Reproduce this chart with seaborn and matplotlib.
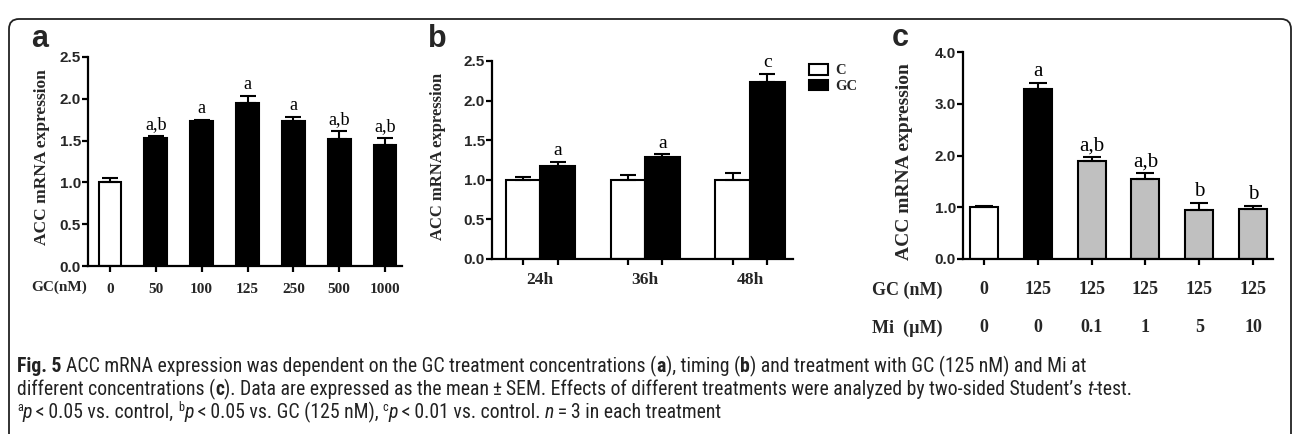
import numpy as np
import pandas as pd
import matplotlib
matplotlib.use("Agg")
import matplotlib.pyplot as plt
import seaborn as sns
from matplotlib.patches import Patch, FancyBboxPatch
from matplotlib.transforms import IdentityTransform, blended_transform_factory
from matplotlib import font_manager

# ---------------- data ----------------
a_labels = ["0", "50", "100", "125", "250", "500", "1000"]
a_values = [1.00, 1.53, 1.73, 1.95, 1.73, 1.52, 1.45]
a_errors = [0.05, 0.03, 0.02, 0.08, 0.05, 0.09, 0.08]
a_marks = ["", "a,b", "a", "a", "a", "a,b", "a,b"]

b_times = ["24h", "36h", "48h"]
b_control = [1.00, 1.00, 1.00]
b_control_err = [0.03, 0.06, 0.08]
b_gc = [1.18, 1.29, 2.24]
b_gc_err = [0.04, 0.03, 0.10]
b_marks = ["a", "a", "c"]

c_gc = ["0", "125", "125", "125", "125", "125"]
c_mi = ["0", "0", "0.1", "1", "5", "10"]
c_values = [1.00, 3.29, 1.90, 1.55, 0.95, 0.97]
c_errors = [0.03, 0.12, 0.07, 0.11, 0.13, 0.05]
c_marks = ["", "a", "a,b", "a,b", "b", "b"]
c_colors = ["white", "black", "#c0c0c0", "#c0c0c0", "#c0c0c0", "#c0c0c0"]

# ---------------- style ----------------
sns.set_style("ticks")
plt.rcParams["font.family"] = ["Liberation Sans", "DejaVu Sans"]
SERIF = ["Liberation Serif", "DejaVu Serif"]
SANS = ["Liberation Sans", "DejaVu Sans"]

W, H = 1292, 434
fig = plt.figure(figsize=(W / 100, H / 100), dpi=100)


def axes_px(x0, y0, x1, y1):
    return fig.add_axes([x0 / W, 1 - y1 / H, (x1 - x0) / W, (y1 - y0) / H])


def fx(x):
    return x / W


def fy(y):
    return 1 - y / H


def style_axes(ax, yticks, fmt, ysize=11):
    sns.despine(ax=ax)
    for s in ("left", "bottom"):
        ax.spines[s].set_linewidth(1.6)
        ax.spines[s].set_color("black")
    ax.set_yticks(yticks)
    ax.set_yticklabels([fmt.format(t) for t in yticks], family=SANS,
                       weight="bold", fontsize=ysize)
    ax.tick_params(axis="y", length=4, width=1.6, pad=1, color="black")
    ax.tick_params(axis="x", which="major", length=4, width=1.6, color="black")
    ax.set_xlabel("")
    ax.patch.set_alpha(0)


def add_marks(ax, xs, tops, marks, size):
    for x, t, m in zip(xs, tops, marks):
        if m:
            ax.annotate(m, (x, t), xytext=(0, 5), textcoords="offset points",
                        ha="center", va="baseline", family=SERIF,
                        fontsize=size, color="black")


# ---------------- panel a ----------------
ax = axes_px(88, 57, 402, 266)
df_a = pd.DataFrame({"GC": a_labels, "val": a_values})
sns.barplot(data=df_a, x="GC", y="val", hue="GC", order=a_labels,
            hue_order=a_labels, palette=["white"] + ["black"] * 6,
            legend=False, width=0.5, edgecolor="black", linewidth=1.5,
            errorbar=None, ax=ax, saturation=1)
xa = np.arange(len(a_labels))
ax.errorbar(xa, a_values, yerr=[np.zeros(len(xa)), a_errors], fmt="none",
            ecolor="black", elinewidth=1.5, capsize=6, capthick=1.5, zorder=1)
ax.set_ylim(0, 2.5)
ax.set_xlim(-0.48, 6.37)
style_axes(ax, [0, 0.5, 1.0, 1.5, 2.0, 2.5], "{:.1f}")
ax.set_xticks(xa, labels=a_labels, family=SERIF, weight="bold", fontsize=11)
ax.tick_params(axis="x", pad=8)
ax.set_ylabel("ACC mRNA expression", family=SERIF, weight="bold", fontsize=12.5)
ax.yaxis.set_label_coords((42 - 88) / 314, 0.52)
ax.yaxis.label.set_va("center")
add_marks(ax, xa, np.add(a_values, a_errors), a_marks, 13)
fig.text(fx(59), fy(287), "GC(nM)", ha="center", va="center", family=SERIF,
         weight="bold", fontsize=11)
fig.text(fx(31), fy(47), "a", family=SANS, weight="bold", fontsize=22,
         va="baseline")

# ---------------- panel b ----------------
ax = axes_px(492, 61, 793, 259)
df_b = pd.DataFrame({"time": b_times * 2,
                     "group": ["C"] * 3 + ["GC"] * 3,
                     "val": b_control + b_gc})
sns.barplot(data=df_b, x="time", y="val", hue="group", order=b_times,
            hue_order=["C", "GC"], palette={"C": "white", "GC": "black"},
            width=0.66, edgecolor="black", linewidth=1.5, errorbar=None,
            ax=ax, legend=False, saturation=1)
xb = np.arange(len(b_times))
off = 0.165
ax.errorbar(xb - off, b_control, yerr=[np.zeros(3), b_control_err], fmt="none",
            ecolor="black", elinewidth=1.5, capsize=6, capthick=1.5, zorder=1)
ax.errorbar(xb + off, b_gc, yerr=[np.zeros(3), b_gc_err], fmt="none",
            ecolor="black", elinewidth=1.5, capsize=6, capthick=1.5, zorder=1)
ax.set_ylim(0, 2.5)
ax.set_xlim(-0.46, 2.41)
style_axes(ax, [0, 0.5, 1.0, 1.5, 2.0, 2.5], "{:.1f}")
ax.set_xticks(np.sort(np.concatenate([xb - off, xb + off])), labels=[""] * 6)
ax.set_xticks(xb, labels=b_times, minor=True, family=SERIF, weight="bold",
              fontsize=12.5)
ax.tick_params(axis="x", which="minor", length=0, pad=9)
ax.set_ylabel("ACC mRNA expression", family=SERIF, weight="bold", fontsize=12)
ax.yaxis.set_label_coords((438 - 492) / 301, 0.52)
ax.yaxis.label.set_va("center")
add_marks(ax, xb + off, np.add(b_gc, b_gc_err), b_marks, 14)
handles = [Patch(facecolor="white", edgecolor="black", linewidth=1.5, label="C"),
           Patch(facecolor="black", edgecolor="black", linewidth=1.5, label="GC")]
leg = ax.legend(handles=handles, loc="upper left",
                bbox_to_anchor=(fx(809), fy(64)), bbox_transform=fig.transFigure,
                frameon=False, borderpad=0, borderaxespad=0, handlelength=1.3,
                handleheight=0.75, handletextpad=0.5, labelspacing=0.15,
                prop={"family": SERIF, "weight": "bold", "size": 10.5})
fig.text(fx(428), fy(47), "b", family=SANS, weight="bold", fontsize=22,
         va="baseline")

# ---------------- panel c ----------------
ax = axes_px(963, 52, 1273, 259)
c_keys = [f"{g}|{m}" for g, m in zip(c_gc, c_mi)]
df_c = pd.DataFrame({"cond": c_keys, "val": c_values})
sns.barplot(data=df_c, x="cond", y="val", hue="cond", order=c_keys,
            hue_order=c_keys, palette=c_colors, legend=False, width=0.52,
            edgecolor="black", linewidth=1.5, errorbar=None, ax=ax,
            saturation=1)
xc = np.arange(len(c_keys))
ax.errorbar(xc, c_values, yerr=[np.zeros(len(xc)), c_errors], fmt="none",
            ecolor="black", elinewidth=1.5, capsize=6.5, capthick=1.5, zorder=1)
ax.set_ylim(0, 4)
ax.set_xlim(-0.39, 5.37)
style_axes(ax, [0, 1, 2, 3, 4], "{:.1f}")
ax.set_xticks(xc, labels=c_gc, family=SERIF, weight="bold", fontsize=13)
ax.tick_params(axis="x", pad=12)
ax.set_ylabel("ACC mRNA expression", family=SERIF, weight="bold", fontsize=14)
ax.yaxis.set_label_coords((905 - 963) / 310, 0.47)
ax.yaxis.label.set_va("center")
add_marks(ax, xc, np.add(c_values, c_errors), c_marks, 15)
tr = blended_transform_factory(ax.transData, fig.transFigure)
for x, m in zip(xc, c_mi):
    ax.text(x, fy(328), m, transform=tr, ha="center", va="center",
            family=SERIF, weight="bold", fontsize=13, clip_on=False)
fig.text(fx(907), fy(290), "GC (nM)", ha="center", va="center", family=SERIF,
         weight="bold", fontsize=13)
fig.text(fx(907), fy(328), "Mi  (µM)", ha="center", va="center", family=SERIF,
         weight="bold", fontsize=13)
fig.text(fx(892), fy(46), "c", family=SANS, weight="bold", fontsize=22,
         va="baseline")

# ---------------- frame ----------------
frame = FancyBboxPatch((9, -30), 1282, H - 9 + 30 - 10,
                       boxstyle="round,pad=0,rounding_size=10",
                       transform=IdentityTransform(), facecolor="none",
                       edgecolor="#222222", linewidth=1.3)
fig.add_artist(frame)

# ---------------- caption ----------------
cap_family = None
for cand in ["Liberation Sans Narrow", "Roboto Condensed", "Open Sans Condensed",
             "DejaVu Sans Condensed", "Noto Sans", "Liberation Sans"]:
    try:
        font_manager.findfont(font_manager.FontProperties(family=cand),
                              fallback_to_default=False)
        cap_family = cand
        break
    except Exception:
        continue
if cap_family is None:
    cap_family = "DejaVu Sans"

renderer = fig.canvas.get_renderer()


def txt_width(s, size, weight="normal", style="normal"):
    t1 = fig.text(0, 0, "|" + s + "|", fontsize=size, fontweight=weight,
                  fontstyle=style, family=cap_family)
    t2 = fig.text(0, 0, "||", fontsize=size, fontweight=weight,
                  fontstyle=style, family=cap_family)
    w = t1.get_window_extent(renderer).width - t2.get_window_extent(renderer).width
    t1.remove()
    t2.remove()
    return w


N, B, I, S = "n", "b", "i", "s"
lines = [
    [("Fig. 5", B), (" ACC mRNA expression was dependent on the GC treatment "
                     "concentrations (", N), ("a", B), ("), timing (", N),
     ("b", B), (") and treatment with GC (125 nM) and Mi at", N)],
    [("different concentrations (", N), ("c", B),
     ("). Data are expressed as the mean\u2009±\u2009SEM. Effects of different "
      "treatments were analyzed by two-sided Student’s ", N), ("t", I),
     ("-test.", N)],
    [("a", S), ("p", I), ("\u2009<\u20090.05 vs. control, ", N), ("b", S),
     ("p", I), ("\u2009<\u20090.05 vs. GC (125 nM), ", N), ("c", S), ("p", I),
     ("\u2009<\u20090.01 vs. control. ", N), ("n", I),
     ("\u2009=\u20093 in each treatment", N)],
]


def seg_props(kind, size):
    if kind == B:
        return dict(size=size, weight="bold", style="normal")
    if kind == I:
        return dict(size=size, weight="normal", style="italic")
    if kind == S:
        return dict(size=size * 0.62, weight="normal", style="normal")
    return dict(size=size, weight="normal", style="normal")


def line_width(line, size):
    return sum(txt_width(s, **seg_props(k, size)) for s, k in line)


base = 10.0
target = 1128 - 17
scale = target / line_width(lines[1], base)
cap_size = base * scale

baselines = [372, 395, 418]
for line, yb in zip(lines, baselines):
    x = 17.0
    for s, k in line:
        p = seg_props(k, cap_size)
        stripped = s.strip(" ")
        lead = len(s) - len(s.lstrip(" "))
        trail = len(s) - len(s.rstrip(" "))
        sw = txt_width(" ", **p)
        x += lead * sw
        ydraw = yb - (cap_size * 0.36 * 100 / 72 if k == S else 0)
        fig.text(fx(x), fy(ydraw), stripped, fontsize=p["size"],
                 fontweight=p["weight"], fontstyle=p["style"],
                 family=cap_family, ha="left", va="baseline", color="#222222")
        x += txt_width(stripped, **p) + trail * sw

fig.savefig("out.png", dpi=100)
